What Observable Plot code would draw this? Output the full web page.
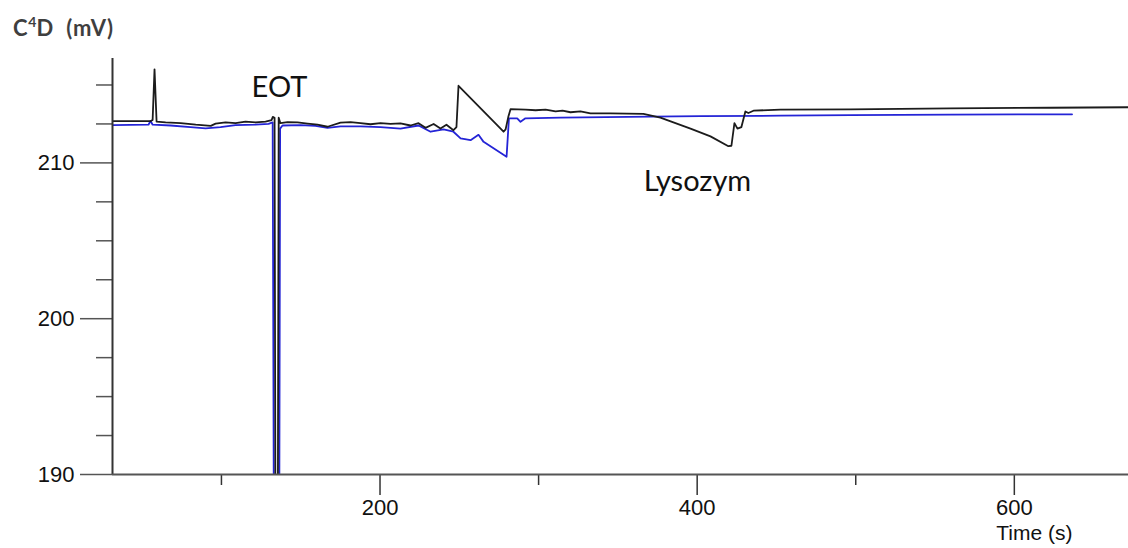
<!DOCTYPE html>
<html>
<head>
<meta charset="utf-8">
<script src="https://cdn.jsdelivr.net/npm/d3@7"></script>
<script src="https://cdn.jsdelivr.net/npm/@observablehq/plot@0.6"></script>
<style>
  body { margin: 0; background: #fff; }
  #wrap { position: relative; width: 1128px; height: 548px; }
  #title {
    height: 50px; box-sizing: border-box; padding: 17px 0 0 13px;
    font-family: Lato, "Open Sans", sans-serif; font-weight: bold; font-size: 22px;
    letter-spacing: 0.8px; color: #3f3f3f; line-height: 1; white-space: pre;
  }
  #title sup { font-size: 14px; vertical-align: 9px; line-height: 0; letter-spacing: 0; }
  svg { display: block; }
</style>
</head>
<body>
<div id="wrap">
  <div id="title">C<sup>4</sup>D  (mV)</div>
  <div id="chart"></div>
</div>
<script>
// C4D detector signal over time, two runs (black and blue)
const timeBlack = [31.3, 55.3, 56.6, 57.8, 59.1, 64.8, 74.3, 83.8, 93.3, 96.3, 102.6, 108.9, 115.2, 121.5, 127.8,
  131.6, 132.4, 133.5, 134.0, 135.6, 136.1, 137.2, 141.7, 148, 154.3, 160.6, 166.9, 175.1, 181.4, 187.7, 194, 200.3, 206.6,
  212.9, 219.2, 224.3, 228.7, 233.8, 238.1, 241.9, 246.3, 248.2, 249.5, 277.9, 279.2, 281.0, 282.3, 291.7, 298.1,
  304.4, 310.7, 315.1, 320.1, 326.4, 332.7, 345.3, 366.1, 376.8, 395.8, 408.4, 419.7, 421.6, 423.5, 425.4, 427.9,
  430.4, 432.3, 435.5, 452.5, 496.7, 559.7, 622.8, 672];
const valueBlack = [212.68, 212.68, 212.75, 216.0, 212.65, 212.6, 212.55, 212.45, 212.38, 212.52, 212.6, 212.55, 212.65, 212.6, 212.65,
  212.75, 212.95, 212.9, 189, 189, 212.9, 212.55, 212.62, 212.6, 212.52, 212.45, 212.32, 212.58, 212.62, 212.55, 212.48, 212.55, 212.5,
  212.54, 212.4, 212.55, 212.25, 212.5, 212.2, 212.45, 212.1, 212.3, 214.95, 212.0, 212.15, 213.0, 213.45, 213.42, 213.38,
  213.42, 213.3, 213.35, 213.25, 213.3, 213.18, 213.18, 213.14, 212.9, 212.2, 211.7, 211.07, 211.1, 212.55, 212.2, 212.3,
  213.3, 213.2, 213.35, 213.42, 213.44, 213.5, 213.54, 213.57];

const timeBlue = [31.3, 54, 55.3, 56.6, 67.9, 80.5, 90, 99.4, 108.9, 121.5, 129.7, 132.3, 133.0, 136.5, 137.0,
  138.5, 149.9, 159.3, 166.9, 175.1, 187.7, 200.3, 212.9, 224.3, 231.9, 240.1, 246.3, 250.8, 257.1, 262.1,
  265.3, 279.8, 281.3, 286.5, 288.6, 291.7, 313.8, 370.6, 402.1, 452.5, 496.7, 559.7, 636.4];
const valueBlue = [212.42, 212.45, 212.7, 212.45, 212.4, 212.3, 212.22, 212.3, 212.42, 212.45, 212.5, 212.6, 189, 189, 212.2,
  212.4, 212.42, 212.38, 212.25, 212.35, 212.35, 212.3, 212.2, 212.4, 212.0, 212.15, 212.0, 211.57, 211.46, 211.8,
  211.35, 210.39, 212.86, 212.86, 212.64, 212.86, 212.9, 212.97, 213.0, 213.03, 213.07, 213.1, 213.12];

const xDomain = [31.3, 672];
const yDomain = [190, 216.7];
const xMajor = [200, 400, 600];
const xMinor = [100, 300, 500];
const yMajor = [190, 200, 210];
const yMinor = [192.5, 195, 197.5, 202.5, 205, 207.5, 212.5, 215];

const annotations = [
  {t: 136.6, v: 214.8, label: "EOT"},
  {t: 400.2, v: 208.76, label: "Lysozym"}
];

const black = timeBlack.map((t, i) => ({t, v: valueBlack[i]}));
const blue = timeBlue.map((t, i) => ({t, v: valueBlue[i]}));

const chart = Plot.plot({
  width: 1128,
  height: 498,
  marginTop: 8,
  marginBottom: 74,
  marginLeft: 112,
  marginRight: 0,
  x: {domain: xDomain},
  y: {domain: yDomain},
  style: {background: "#fff", color: "#111", fontFamily: "'Liberation Sans', Arial, sans-serif", fontSize: "22px"},
  marks: [
    Plot.axisY({ticks: yMajor, tickSize: 32, tickPadding: 6, tickFormat: d => d, label: null, stroke: "#555", strokeWidth: 1.5, fontSize: 22}),
    Plot.axisY({ticks: yMinor, tickSize: 16, tickFormat: () => "", label: null, stroke: "#555", strokeWidth: 1.5}),
    Plot.axisX({ticks: xMajor, tickSize: 21, tickPadding: 4, tickFormat: d => d, label: null, stroke: "#333", strokeWidth: 1.5, fontSize: 22}),
    Plot.axisX({ticks: xMinor, tickSize: 11, tickFormat: () => "", label: null, stroke: "#333", strokeWidth: 1.5}),
    Plot.line(blue, {x: "t", y: "v", stroke: "#2424d6", strokeWidth: 1.8, clip: true}),
    Plot.line(black, {x: "t", y: "v", stroke: "#1c1c1c", strokeWidth: 1.8, clip: true}),
    Plot.ruleX([xDomain[0]], {stroke: "#333", strokeWidth: 2}),
    Plot.ruleY([yDomain[0]], {stroke: "#555", strokeWidth: 2}),
    Plot.text(annotations, {x: "t", y: "v", text: "label", fontFamily: "Lato, 'Open Sans', sans-serif", fontSize: 29, fill: "#111"}),
    Plot.text(["Time (s)"], {frameAnchor: "bottom-right", textAnchor: "end", dx: -56, dy: 65, fontSize: 21, fill: "#111"})
  ]
});
document.getElementById("chart").appendChild(chart);
</script>
</body>
</html>
